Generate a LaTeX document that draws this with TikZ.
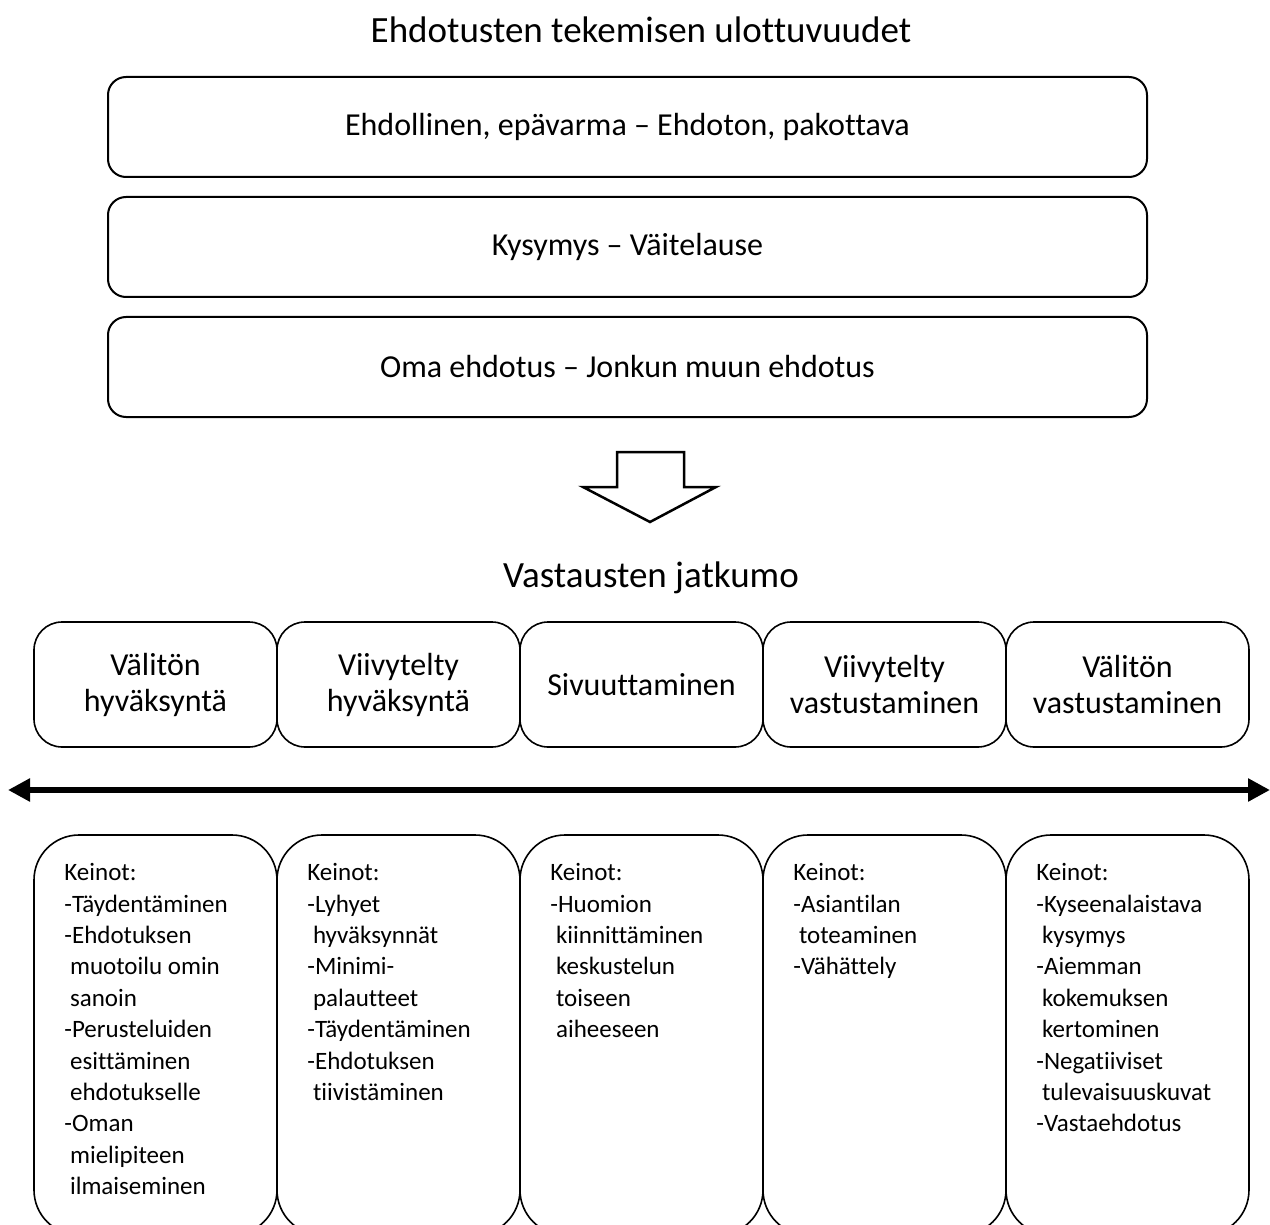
\documentclass[tikz,border=0pt]{standalone}
\usepackage{fontspec}
\setmainfont{Carlito}[Ligatures=NoCommon]
\usetikzlibrary{positioning,arrows.meta}

\tikzset{
  topbox/.style={draw, line width=2pt, rounded corners=18pt,
    minimum width=1039pt, minimum height=100pt,
    font=\fontsize{32}{38}\selectfont},
  rowbox/.style={draw, line width=1.6pt, rounded corners=28pt, align=center,
    minimum width=243pt, minimum height=125pt,
    font=\fontsize{32}{36}\selectfont},
  keinobox/.style={draw, line width=1.6pt, rounded corners=45pt,
    minimum width=243pt, minimum height=400pt},
  keinotext/.style={align=left, inner sep=0pt,
    font=\fontsize{25}{31.4}\selectfont},
  heading/.style={font=\fontsize{37}{42}\selectfont}
}

\begin{document}
\begin{tikzpicture}[x=1pt, y=-1pt]
    \useasboundingbox (0,0) rectangle (1270,1225);
    \clip (0,0) rectangle (1270,1225);

    % Dimensions of proposals
    \node[heading] (title1) at (641,30) {Ehdotusten tekemisen ulottuvuudet};
    \node[topbox] (t1) at (627.5,127) {Ehdollinen, epävarma – Ehdoton, pakottava};
    \node[topbox] (t2) at (627.5,247) {Kysymys – Väitelause};
    \node[topbox] (t3) at (627.5,367) {Oma ehdotus – Jonkun muun ehdotus};

    % Block arrow down
    \draw[line width=2.5pt, line join=miter]
      (617,452) -- (684,452) -- (684,487) -- (716,487) -- (650,522)
      -- (583,487) -- (617,487) -- cycle;

    % Continuum of responses
    \node[heading] (title2) at (651,578) {Vastausten jatkumo};
    \foreach \i/\txt in {1/{Välitön\\hyväksyntä}, 2/{Viivytelty\\hyväksyntä},
                         3/{Sivuuttaminen}, 4/{Viivytelty\\vastustaminen},
                         5/{Välitön\\vastustaminen}}{
        \pgfmathsetmacro\xc{155.5+243*(\i-1)}
        \node[rowbox] (r\i) at (\xc,684.5) {\txt};
    }

    % Axis
    \coordinate (left) at (8,790);
    \coordinate (right) at (1270,790);
    \draw[{Triangle[length=22pt,width=22pt]}-{Triangle[length=22pt,width=22pt]}, line width=6pt]
      (left) -- (right);

    % Means
    \foreach \i in {1,...,5}{
        \pgfmathsetmacro\xc{155.5+243*(\i-1)}
        \node[keinobox] (k\i) at (\xc,1035) {};
    }
    \node[keinotext, below right=29pt and 31pt of k1.north west] (m1)
      {Keinot:\\-Täydentäminen\\-Ehdotuksen\\\ muotoilu omin\\\ sanoin\\-Perusteluiden\\\ esittäminen\\\ ehdotukselle\\-Oman\\\ mielipiteen\\\ ilmaiseminen};
    \node[keinotext, below right=29pt and 31pt of k2.north west] (m2)
      {Keinot:\\-Lyhyet\\\ hyväksynnät\\-Minimi-\\\ palautteet\\-Täydentäminen\\-Ehdotuksen\\\ tiivistäminen};
    \node[keinotext, below right=29pt and 31pt of k3.north west] (m3)
      {Keinot:\\-Huomion\\\ kiinnittäminen\\\ keskustelun\\\ toiseen\\\ aiheeseen};
    \node[keinotext, below right=29pt and 31pt of k4.north west] (m4)
      {Keinot:\\-Asiantilan\\\ toteaminen\\-Vähättely};
    \node[keinotext, below right=29pt and 31pt of k5.north west] (m5)
      {Keinot:\\-Kyseenalaistava\\\ kysymys\\-Aiemman\\\ kokemuksen\\\ kertominen\\-Negatiiviset\\\ tulevaisuuskuvat\\-Vastaehdotus};
\end{tikzpicture}
\end{document}
